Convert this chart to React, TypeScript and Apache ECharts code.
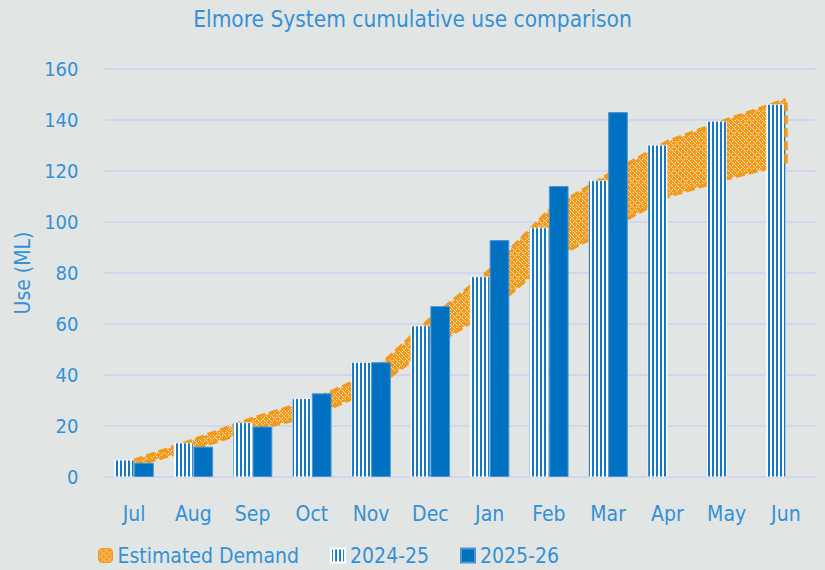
import React, { useEffect, useRef } from 'react';
import * as echarts from 'echarts';

const months = ['Jul', 'Aug', 'Sep', 'Oct', 'Nov', 'Dec', 'Jan', 'Feb', 'Mar', 'Apr', 'May', 'Jun'];
const use2024 = [6.7, 13.4, 21.4, 30.8, 45, 59.3, 78.6, 97.8, 116.3, 130.2, 139.6, 146.2];
const use2025: (number | null)[] = [5.6, 11.9, 19.8, 32.8, 45, 67, 92.9, 114.1, 143.1, null, null, null];
const demandLow = [4.5, 11, 18.5, 24, 34, 51, 65, 85, 97, 110, 117, 123];
const demandHigh = [6.5, 14.5, 23, 30, 40.5, 62, 81, 104.5, 118.5, 131.5, 140, 148];
const yMin = 0;
const yMax = 160;
const yStep = 20;

const BG = '#e1e6e4';
const TEXT = '#3590d5';
const BAR_BLUE = '#0070c0';
const STRIPE_BLUE = '#1576c6';
const ORANGE = '#f29a1b';
const GRID = '#d3d5ee';
const FONT = "'DejaVu Sans Condensed', 'DejaVu Sans', sans-serif";

function makeTile(w: number, h: number, draw: (ctx: CanvasRenderingContext2D) => void) {
  const c = document.createElement('canvas');
  c.width = w;
  c.height = h;
  const ctx = c.getContext('2d')!;
  draw(ctx);
  return c;
}

export default function App() {
  const ref = useRef<HTMLDivElement>(null);

  useEffect(() => {
    if (!ref.current) return;
    const chart = echarts.init(ref.current, undefined, { renderer: 'svg' });

    const stripeTile = makeTile(4, 4, (ctx) => {
      ctx.fillStyle = '#ffffff';
      ctx.fillRect(0, 0, 4, 4);
      ctx.fillStyle = STRIPE_BLUE;
      ctx.fillRect(0, 0, 2, 4);
    });
    const bandTile = makeTile(6, 6, (ctx) => {
      ctx.fillStyle = ORANGE;
      ctx.fillRect(0, 0, 6, 6);
      ctx.fillStyle = '#fad9a8';
      const pts = [[0, 0], [3, 3], [1, 1], [2, 2], [4, 4], [5, 5]];
      pts.forEach(([x, y]) => ctx.fillRect(x, y, 1, 1));
      ctx.fillStyle = '#fff3e2';
      ctx.fillRect(0, 3, 1, 1);
      ctx.fillRect(3, 0, 1, 1);
    });

    const stripePattern: any = { image: stripeTile, repeat: 'repeat', imageWidth: 4, imageHeight: 4 };
    const bandPattern: any = { image: bandTile, repeat: 'repeat', imageWidth: 6, imageHeight: 6 };

    const bandDiff = demandHigh.map((v, i) => +(v - demandLow[i]).toFixed(2));
    const dash = [9, 4];

    const option: any = {
      animation: false,
      backgroundColor: BG,
      title: {
        text: 'Elmore System cumulative use comparison',
        left: 'center',
        top: 7,
        padding: 0,
        textStyle: { color: TEXT, fontFamily: FONT, fontSize: 22.5, fontWeight: 'normal' },
      },
      legend: {
        left: 98,
        top: 545,
        itemWidth: 14,
        itemHeight: 14,
        itemGap: 31,
        padding: 0,
        textStyle: { color: TEXT, fontFamily: FONT, fontSize: 21 },
        data: [
          { name: 'Estimated Demand', icon: 'roundRect', itemStyle: { color: bandPattern, borderColor: ORANGE, borderWidth: 1 } },
          { name: '2024-25', icon: 'rect' },
          { name: '2025-26', icon: 'rect' },
        ],
      },
      grid: { left: 104.5, right: 9.5, top: 69, bottom: 93, containLabel: false, outerBoundsMode: 'none' },
      xAxis: {
        type: 'category',
        data: months,
        axisLine: { show: true, lineStyle: { color: GRID, width: 2 } },
        axisTick: { show: false },
        axisLabel: { color: TEXT, fontFamily: FONT, fontSize: 21, margin: 26, interval: 0 },
      },
      yAxis: {
        type: 'value',
        min: yMin,
        max: yMax,
        interval: yStep,
        name: 'Use (ML)',
        nameLocation: 'middle',
        nameGap: 71,
        nameTextStyle: { color: TEXT, fontFamily: FONT, fontSize: 21 },
        axisLine: { show: false },
        axisTick: { show: false },
        axisLabel: { color: TEXT, fontFamily: FONT, fontSize: 20, margin: 26 },
        splitLine: { show: true, lineStyle: { color: GRID, width: 2 } },
      },
      series: [
        {
          name: 'demandBase',
          type: 'line',
          stack: 'band',
          data: demandLow,
          symbol: 'none',
          lineStyle: { opacity: 0 },
          silent: true,
          z: 1,
        },
        {
          name: 'Estimated Demand',
          type: 'line',
          stack: 'band',
          data: bandDiff,
          symbol: 'none',
          itemStyle: { color: ORANGE },
          lineStyle: { color: ORANGE, width: 3.5, type: dash },
          areaStyle: { color: bandPattern, opacity: 1 },
          silent: true,
          z: 1,
        },
        {
          name: 'demandLowEdge',
          type: 'line',
          data: demandLow,
          symbol: 'none',
          lineStyle: { color: ORANGE, width: 3.5, type: dash },
          silent: true,
          z: 1,
          markLine: {
            symbol: 'none',
            silent: true,
            label: { show: false },
            lineStyle: { color: ORANGE, width: 3.5, type: dash },
            data: [[{ coord: ['Jun', demandLow[11]] }, { coord: ['Jun', demandHigh[11]] }]],
          },
        },
        {
          name: '2024-25',
          type: 'bar',
          data: use2024,
          barWidth: 19.7,
          barGap: '0%',
          itemStyle: { color: stripePattern, borderColor: '#ffffff', borderWidth: 0.5 },
          z: 3,
        },
        {
          name: '2025-26',
          type: 'bar',
          data: use2025,
          barWidth: 19.7,
          barGap: '0%',
          itemStyle: { color: BAR_BLUE, borderColor: '#4a95d3', borderWidth: 1 },
          z: 3,
        },
      ],
    };

    chart.setOption(option);
    return () => chart.dispose();
  }, []);

  return (
    <div
      ref={ref}
      style={{ position: 'fixed', left: 0, top: 0, width: 825, height: 570 }}
    />
  );
}
